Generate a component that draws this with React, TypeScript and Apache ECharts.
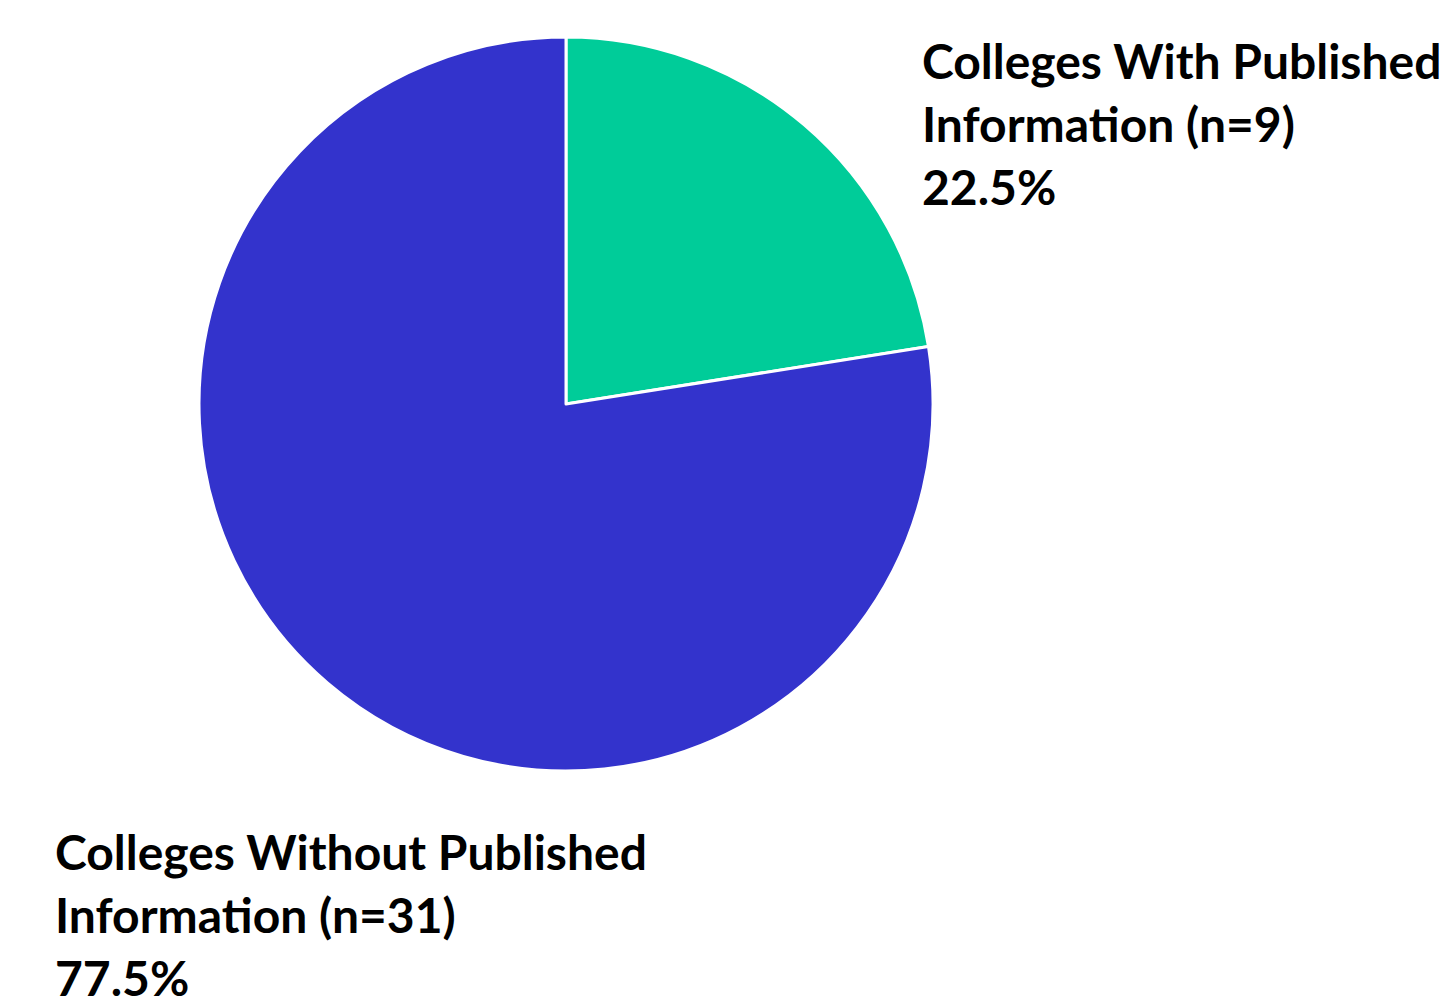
import React, { useEffect, useRef } from "react";
import * as echarts from "echarts";

const categories = [
  "Colleges With Published\nInformation",
  "Colleges Without Published\nInformation",
];
const counts = [9, 31];
const colors = ["#00CC99", "#3333CC"];

const labelPos = [
  { x: 922, y: 123 },
  { x: 55, y: 914 },
];

export default function App() {
  const ref = useRef<HTMLDivElement>(null);
  useEffect(() => {
    if (!ref.current) return;
    const chart = echarts.init(ref.current, undefined, { renderer: "svg" });
    chart.setOption({
      animation: false,
      backgroundColor: "#ffffff",
      series: [
        {
          type: "pie",
          center: [566, 404],
          radius: 367,
          startAngle: 90,
          clockwise: true,
          silent: true,
          itemStyle: { borderColor: "#ffffff", borderWidth: 3 },
          label: {
            show: true,
            position: "outside",
            fontFamily: "Lato",
            fontWeight: "bold",
            fontSize: 48,
            lineHeight: 63,
            color: "#000000",
            overflow: "none",
            width: 800,
            formatter: (p: any) => `${p.name} (n=${p.value})\n${p.percent.toFixed(1)}%`,
          },
          labelLine: { show: false },
          labelLayout: (p: any) => ({
            x: labelPos[p.dataIndex].x,
            y: labelPos[p.dataIndex].y,
            align: "left",
            verticalAlign: "middle",
            hideOverlap: false,
          }),
          data: categories.map((c, i) => ({
            name: c,
            value: counts[i],
            itemStyle: { color: colors[i] },
          })),
        },
      ],
    });
    return () => chart.dispose();
  }, []);
  return (
    <div
      ref={ref}
      style={{ position: "fixed", left: 0, top: 0, width: 1454, height: 1002 }}
    />
  );
}
